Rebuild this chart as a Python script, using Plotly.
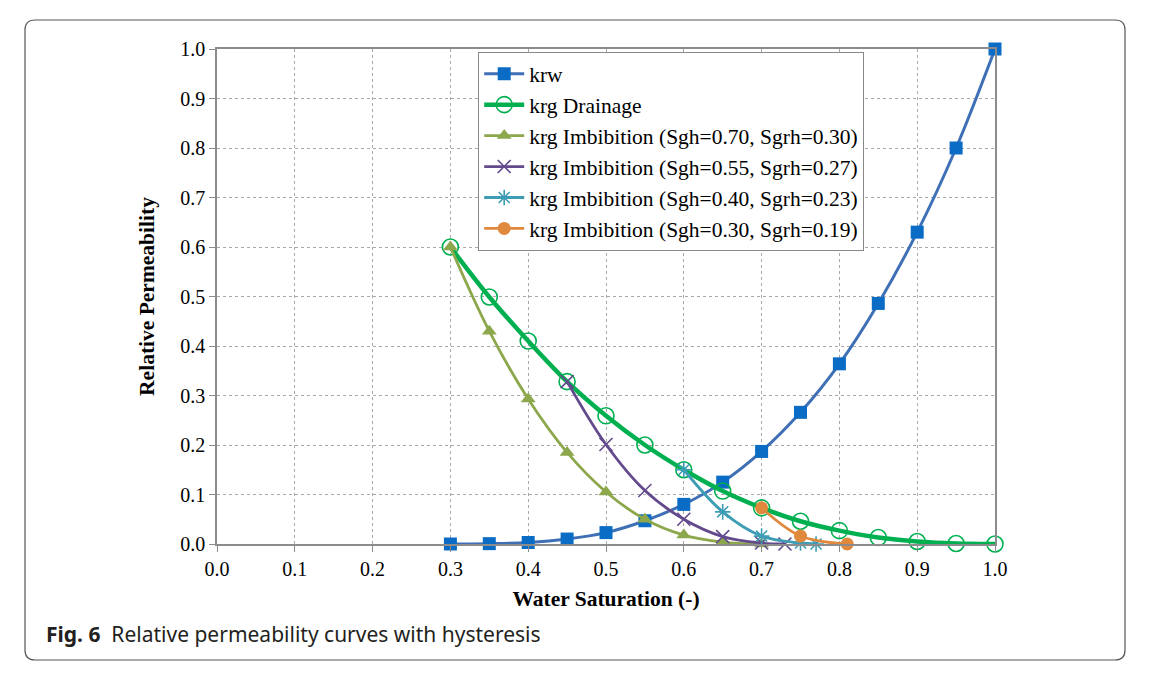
import plotly.graph_objects as go

# ---- data ----
sw_krw = [0.30, 0.35, 0.40, 0.45, 0.50, 0.55, 0.60, 0.65, 0.70, 0.75, 0.80, 0.85, 0.90, 0.95, 1.00]
krw = [0.0, 0.0007, 0.003, 0.010, 0.023, 0.047, 0.080, 0.125, 0.187, 0.266, 0.364, 0.486, 0.630, 0.800, 1.000]

sw_drain = [0.30, 0.35, 0.40, 0.45, 0.50, 0.55, 0.60, 0.65, 0.70, 0.75, 0.80, 0.85, 0.90, 0.95, 1.00]
krg_drain = [0.600, 0.499, 0.410, 0.328, 0.259, 0.200, 0.150, 0.107, 0.073, 0.046, 0.027, 0.013, 0.005, 0.001, 0.0]

sw_imb70 = [0.30, 0.35, 0.40, 0.45, 0.50, 0.55, 0.60, 0.65, 0.70]
krg_imb70 = [0.600, 0.430, 0.293, 0.185, 0.105, 0.050, 0.018, 0.004, 0.0]

sw_imb55 = [0.45, 0.50, 0.55, 0.60, 0.65, 0.70, 0.73]
krg_imb55 = [0.328, 0.201, 0.108, 0.050, 0.015, 0.002, 0.0]

sw_imb40 = [0.60, 0.65, 0.70, 0.75, 0.77]
krg_imb40 = [0.150, 0.065, 0.016, 0.002, 0.0]

sw_imb30 = [0.70, 0.75, 0.81]
krg_imb30 = [0.073, 0.016, 0.0]

x_ticks = [0.0, 0.1, 0.2, 0.3, 0.4, 0.5, 0.6, 0.7, 0.8, 0.9, 1.0]
y_ticks = [0.0, 0.1, 0.2, 0.3, 0.4, 0.5, 0.6, 0.7, 0.8, 0.9, 1.0]

names = ["krw", "krg Drainage",
         "krg Imbibition (Sgh=0.70, Sgrh=0.30)",
         "krg Imbibition (Sgh=0.55, Sgrh=0.27)",
         "krg Imbibition (Sgh=0.40, Sgrh=0.23)",
         "krg Imbibition (Sgh=0.30, Sgrh=0.19)"]

SERIF = "Liberation Serif, Times New Roman, serif"

fig = go.Figure()
fig.add_trace(go.Scatter(x=sw_krw, y=krw, name=names[0], mode="lines+markers", cliponaxis=False,
                         line=dict(color="#3F70B5", width=3, shape="spline"),
                         marker=dict(symbol="square", size=13, color="#0A6CC4")))
fig.add_trace(go.Scatter(x=sw_drain, y=krg_drain, name=names[1], mode="lines+markers", cliponaxis=False,
                         line=dict(color="#00B050", width=4.5, shape="spline"),
                         marker=dict(symbol="circle", size=16, color="rgba(255,255,255,0)",
                                     line=dict(color="#00B050", width=1.6))))
fig.add_trace(go.Scatter(x=sw_imb70, y=krg_imb70, name=names[2], mode="lines+markers", cliponaxis=False,
                         line=dict(color="#8DA84C", width=2.8, shape="spline"),
                         marker=dict(symbol="triangle-up", size=13, color="#8DA84C")))
fig.add_trace(go.Scatter(x=sw_imb55, y=krg_imb55, name=names[3], mode="lines+markers", cliponaxis=False,
                         line=dict(color="#634A8C", width=2.8, shape="spline"),
                         marker=dict(symbol="x-thin-open", size=13, color="#634A8C",
                                     line=dict(color="#634A8C", width=1.6))))
fig.add_trace(go.Scatter(x=sw_imb40, y=krg_imb40, name=names[4], mode="lines+markers", cliponaxis=False,
                         line=dict(color="#3E9DB5", width=2.8, shape="spline"),
                         marker=dict(symbol="asterisk-open", size=13, color="#3E9DB5",
                                     line=dict(color="#3E9DB5", width=1.6))))
fig.add_trace(go.Scatter(x=sw_imb30, y=krg_imb30, name=names[5], mode="lines+markers", cliponaxis=False,
                         line=dict(color="#E0883C", width=2.8, shape="spline"),
                         marker=dict(symbol="circle", size=13, color="#E0883C")))

W, H = 1151, 673
L, R, T, B = 217, 995, 49, 544
pw, ph = R - L, B - T

def px_to_paper(px, py):
    return (px - L) / pw, (B - py) / ph

# Rounded outer frame
x0, y0 = 25, 20
x1, y1 = 1125, 660
r = 10
def P(px, py):
    a, b = px_to_paper(px, py)
    return f"{a:.5f},{b:.5f}"
path = (f"M {P(x0 + r, y0)} L {P(x1 - r, y0)} Q {P(x1, y0)} {P(x1, y0 + r)} "
        f"L {P(x1, y1 - r)} Q {P(x1, y1)} {P(x1 - r, y1)} "
        f"L {P(x0 + r, y1)} Q {P(x0, y1)} {P(x0, y1 - r)} "
        f"L {P(x0, y0 + r)} Q {P(x0, y0)} {P(x0 + r, y0)} Z")
fig.add_shape(type="path", path=path, xref="paper", yref="paper",
              line=dict(color="#555555", width=1.2), fillcolor="rgba(0,0,0,0)", layer="below")

cx, cy = px_to_paper(44, 634)
fig.add_annotation(x=cx, y=cy, xref="paper", yref="paper", xanchor="left", yanchor="middle",
                   showarrow=False,
                   text="<b>Fig. 6</b>  Relative permeability curves with hysteresis",
                   font=dict(family="Noto Sans, Open Sans, sans-serif", size=21, color="#231F20"))

lx, ly = px_to_paper(478, 52)

fig.update_layout(
    width=W, height=H,
    margin=dict(l=L, r=W - R, t=T, b=H - B),
    paper_bgcolor="white", plot_bgcolor="white",
    font=dict(family=SERIF, size=20, color="black"),
    showlegend=True,
    legend=dict(x=lx, y=ly, xanchor="left", yanchor="top",
                bgcolor="white", bordercolor="#888888", borderwidth=1.2,
                font=dict(family=SERIF, size=21.5, color="black"),
                itemwidth=40, tracegroupgap=0),
    xaxis=dict(range=[0, 1], tickvals=x_ticks, ticktext=[f"{v:.1f}" for v in x_ticks],
               showgrid=True, gridcolor="#A8A8A8", griddash="dot", gridwidth=1,
               showline=True, linecolor="#8C8C8C", linewidth=1.5, mirror=True,
               ticks="outside", ticklen=6, tickcolor="#8C8C8C",
               zeroline=False,
               tickfont=dict(family=SERIF, size=20, color="black"),
               title=dict(text="<b>Water Saturation (-)</b>", standoff=12,
                          font=dict(family=SERIF, size=21.5, color="black"))),
    yaxis=dict(range=[0, 1], tickvals=y_ticks, ticktext=[f"{v:.1f}" for v in y_ticks],
               showgrid=True, gridcolor="#A8A8A8", griddash="dot", gridwidth=1,
               showline=True, linecolor="#8C8C8C", linewidth=1.5, mirror=True,
               ticks="outside", ticklen=6, tickcolor="#8C8C8C",
               zeroline=False,
               tickfont=dict(family=SERIF, size=20, color="black"),
               title=dict(text="<b>Relative Permeability</b>", standoff=20,
                          font=dict(family=SERIF, size=21.5, color="black"))),
)

fig.write_html("out.html")
